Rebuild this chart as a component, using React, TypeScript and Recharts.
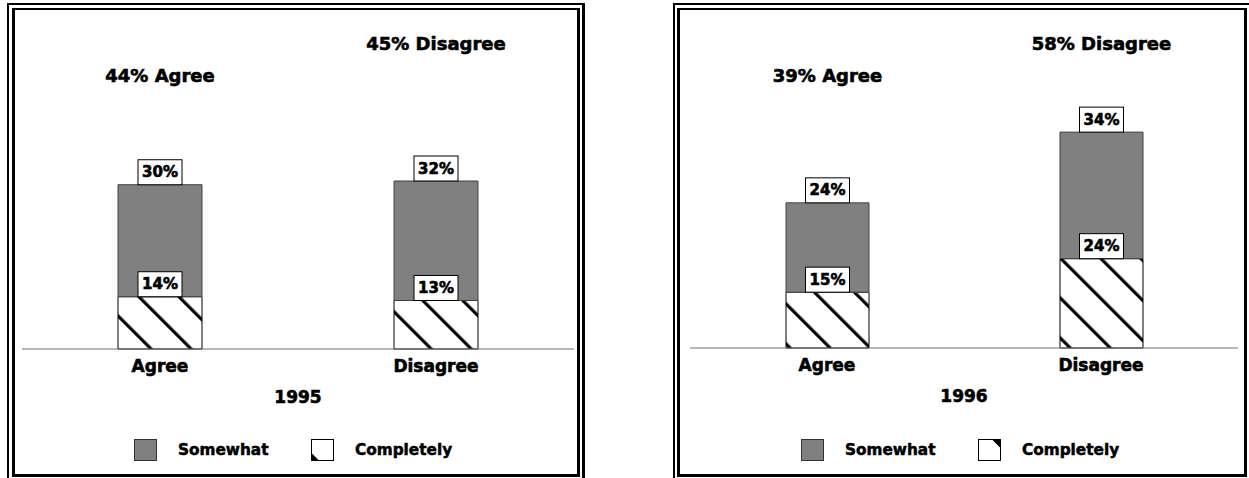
import React from 'react';
import { BarChart, Bar, XAxis, YAxis, LabelList, Legend, Label } from 'recharts';

// Survey answers, per year: share answering "completely" and "somewhat"
const categories = ['Agree', 'Disagree'];
const completely1995 = [14, 13];
const somewhat1995 = [30, 32];
const completely1996 = [15, 24];
const somewhat1996 = [24, 34];

const FONT = '"DejaVu Sans", Verdana, sans-serif';
const GRAY = '#808080';
// vertical centre of the headline text for each category (Agree lower, Disagree higher)
const HEADLINE_Y = [75, 43];

// heavy black lettering: bold face plus a thin outline
const heavy = { stroke: '#000', strokeWidth: 0.6, paintOrder: 'stroke' as const };

type Row = { cat: string; completely: number; somewhat: number; total: number };

function buildRows(completely: number[], somewhat: number[]): Row[] {
  return categories.map((cat, i) => ({
    cat,
    completely: completely[i],
    somewhat: somewhat[i],
    total: completely[i] + somewhat[i],
  }));
}

// white boxed percentage sitting on top of a bar segment
const BoxLabel = (props: any) => {
  const { x, y, width, value } = props;
  const cx = Number(x) + Number(width) / 2;
  const w = 44;
  const h = 25;
  return (
    <g>
      <rect x={cx - w / 2} y={Number(y) - h} width={w} height={h} fill="#fff" stroke="#000" strokeWidth={1} />
      <text
        x={cx}
        y={Number(y) - h / 2}
        textAnchor="middle"
        dominantBaseline="central"
        fontFamily={FONT}
        fontWeight="bold"
        fontSize={15}
        fill="#000"
        {...heavy}
      >
        {value}%
      </text>
    </g>
  );
};

// headline "NN% Agree" / "NN% Disagree" above each stack
const HeadlineLabel = (props: any) => {
  const { x, width, value, index } = props;
  const cx = Number(x) + Number(width) / 2;
  const i = typeof index === 'number' ? index : 0;
  return (
    <text
      x={cx}
      y={HEADLINE_Y[i]}
      textAnchor="middle"
      dominantBaseline="central"
      fontFamily={FONT}
      fontWeight="bold"
      fontSize={18}
      fill="#000"
      {...heavy}
    >
      {value}% {categories[i]}
    </text>
  );
};

const HatchIcon = ({ corner }: { corner: 'bl' | 'tr' }) => (
  <svg width={23} height={22} style={{ display: 'block' }}>
    <rect x={0.5} y={0.5} width={22} height={21} fill="#fff" stroke="#000" strokeWidth={1} />
    {corner === 'bl' ? (
      <polygon points="0.5,14 8,21.5 0.5,21.5" fill="#000" />
    ) : (
      <polygon points="14,0.5 22.5,0.5 22.5,9" fill="#000" />
    )}
  </svg>
);

const GrayIcon = () => (
  <svg width={23} height={22} style={{ display: 'block' }}>
    <rect x={0.5} y={0.5} width={22} height={21} fill={GRAY} stroke="#333" strokeWidth={1} />
  </svg>
);

const legendText: React.CSSProperties = {
  fontFamily: FONT,
  fontWeight: 'bold',
  fontSize: 15.3,
  color: '#000',
  lineHeight: '22px',
  WebkitTextStroke: '0.5px #000',
};

const makeLegend = (corner: 'bl' | 'tr') => () => (
  <div style={{ display: 'flex', alignItems: 'center' }}>
    <GrayIcon />
    <span style={{ ...legendText, marginLeft: 21, width: 133 }}>Somewhat</span>
    <HatchIcon corner={corner} />
    <span style={{ ...legendText, marginLeft: 21 }}>Completely</span>
  </div>
);

const axisFont = { fontFamily: FONT, fontWeight: 'bold', fontSize: 17, fill: '#000', ...heavy };

type PanelProps = {
  year: string;
  rows: Row[];
  left: number;
  width: number;
  marginLeft: number;
  marginRight: number;
  marginBottom: number;
  barSize: number;
  patternId: string;
  corner: 'bl' | 'tr';
  legendLeft: number;
};

function Panel(p: PanelProps) {
  return (
    <div style={{ position: 'absolute', left: p.left, top: 0 }}>
      <BarChart
        width={p.width}
        height={478}
        data={p.rows}
        margin={{ top: 13, right: p.marginRight, bottom: p.marginBottom, left: p.marginLeft }}
        barSize={p.barSize}
      >
        <defs>
          <pattern
            id={p.patternId}
            patternUnits="userSpaceOnUse"
            width={28.3}
            height={10}
            patternTransform="rotate(-45)"
          >
            <rect width={28.3} height={10} fill="#fff" />
            <rect x={0} width={3.2} height={10} fill="#000" />
          </pattern>
        </defs>
        <YAxis hide domain={[0, 90]} type="number" />
        <XAxis
          dataKey="cat"
          height={30}
          tickLine={false}
          tickMargin={5}
          axisLine={{ stroke: '#707070', strokeWidth: 1 }}
          tick={axisFont}
        >
          <Label value={p.year} position="bottom" offset={12} style={axisFont} />
        </XAxis>
        <Bar
          dataKey="completely"
          name="Completely"
          stackId="s"
          fill={`url(#${p.patternId})`}
          stroke="#000"
          strokeWidth={1}
          isAnimationActive={false}
        >
          <LabelList dataKey="completely" content={BoxLabel} />
        </Bar>
        <Bar
          dataKey="somewhat"
          name="Somewhat"
          stackId="s"
          fill={GRAY}
          stroke="#404040"
          strokeWidth={1}
          isAnimationActive={false}
        >
          <LabelList dataKey="somewhat" content={BoxLabel} />
          <LabelList dataKey="total" content={HeadlineLabel} />
        </Bar>
        <Legend
          layout="vertical"
          align="center"
          verticalAlign="middle"
          content={makeLegend(p.corner)}
          wrapperStyle={{ position: 'absolute', top: 439, left: p.legendLeft, width: 360 }}
        />
      </BarChart>
    </div>
  );
}

const frame = (s: React.CSSProperties): React.CSSProperties => ({
  position: 'absolute',
  boxSizing: 'border-box',
  borderStyle: 'solid',
  borderColor: '#000',
  ...s,
});

export default function App() {
  return (
    <div
      style={{
        position: 'absolute',
        left: 0,
        top: 0,
        width: 1249,
        height: 478,
        overflow: 'hidden',
        background: '#fff',
      }}
    >
      {/* double frame, 1995 panel */}
      <div style={frame({ left: 7, top: 3, width: 578, height: 480, borderWidth: '2px 3px 3px 2px' })} />
      <div style={frame({ left: 12, top: 8, width: 568, height: 469, borderWidth: '2px 3px 3px 3px' })} />
      {/* double frame, 1996 panel */}
      <div style={frame({ left: 673, top: 3, width: 580, height: 480, borderWidth: '2px 3px 3px 2px' })} />
      <div style={frame({ left: 677, top: 8, width: 570, height: 469, borderWidth: '2px 3px 3px 3px' })} />

      <Panel
        year="1995"
        rows={buildRows(completely1995, somewhat1995)}
        left={0}
        width={600}
        marginLeft={22}
        marginRight={26}
        marginBottom={99}
        barSize={84}
        patternId="hatch1995"
        corner="bl"
        legendLeft={134}
      />
      <Panel
        year="1996"
        rows={buildRows(completely1996, somewhat1996)}
        left={640}
        width={609}
        marginLeft={50}
        marginRight={11}
        marginBottom={100}
        barSize={83}
        patternId="hatch1996"
        corner="tr"
        legendLeft={161}
      />
    </div>
  );
}
